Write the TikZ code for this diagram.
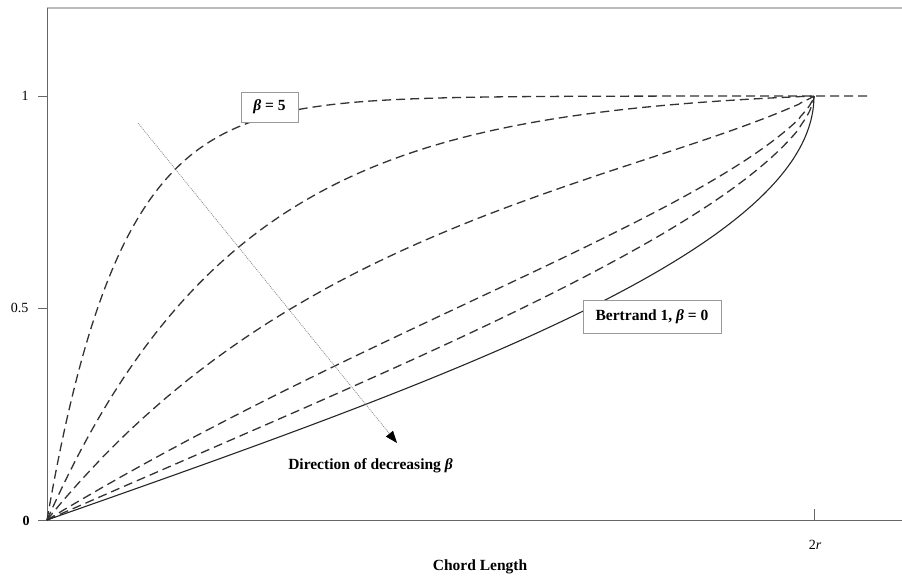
\documentclass[tikz,border=0pt]{standalone}
\usepackage{fontspec}
\setmainfont{Liberation Serif}
\usetikzlibrary{arrows.meta}
\definecolor{axisgray}{HTML}{666666}
\definecolor{framegray}{HTML}{BBBBBB}
\definecolor{boxgray}{HTML}{999999}
\definecolor{curvegray}{HTML}{333333}
\definecolor{dotgray}{HTML}{888888}
\begin{document}
\begin{tikzpicture}[x=1pt,y=-1pt,
  curvedash/.style={draw=curvegray, line width=1.3pt, dash pattern=on 9pt off 5pt},
  solidcurve/.style={draw=black!85, line width=1.1pt},
  axisline/.style={draw=axisgray, line width=0.9pt},
  labelbox/.style={draw=boxgray, line width=0.9pt, fill=white, inner sep=0pt,
     font=\fontsize{15.5}{18}\selectfont\bfseries},
  plaintext/.style={inner sep=0pt, font=\fontsize{15.5}{18}\selectfont\bfseries},
  ticktext/.style={inner sep=0pt, font=\fontsize{14}{16}\selectfont},
  dirarrow/.style={draw=dotgray, line width=0.7pt, dash pattern=on 1pt off 1pt,
     -{Triangle[length=12pt,width=9pt,color=black]}}
]
\useasboundingbox (0,0) rectangle (902,581);
\fill[white] (0,0) rectangle (902,581);

% frame and axes
\coordinate (ftl) at (47,8);
\coordinate (ftr) at (902,8);
\coordinate (orig) at (47,520);
\coordinate (xl) at (38,520);
\coordinate (xr) at (902,520);
\draw[draw=framegray, line width=1.3pt] (ftl) -- (ftr);
\draw[axisline] (ftl) -- (orig);
\draw[axisline] (xl) -- (xr);
\coordinate (t1a) at (38,96);   \coordinate (t1b) at (47,96);
\coordinate (t5a) at (38,308);  \coordinate (t5b) at (47,308);
\coordinate (t2a) at (814,509); \coordinate (t2b) at (814,521);
\draw[axisline] (t1a) -- (t1b);
\draw[axisline] (t5a) -- (t5b);
\draw[axisline] (t2a) -- (t2b);

% tick labels
\node[ticktext] (l1) at (25,96) {1};
\node[ticktext] (l05) at (19.5,308) {0.5};
\node[ticktext, font=\fontsize{14}{16}\selectfont\bfseries] (l0) at (26,521) {0};
\node[ticktext] (l2r) at (815,545) {2\textit{r}};
\node[plaintext] (xlabel) at (480,567) {Chord Length};

% curves
\coordinate (endpt) at (814,96);
\coordinate (flatend) at (869,96);
\draw[curvedash] plot[domain=0:1, samples=220] ({47+767*\x},{520-424*(1-exp(-10.5*\x))}) -- (flatend);
\draw[curvedash] plot[domain=0:1, samples=150] ({47+767*\x},{520-424*((1-exp(-4*\x))/(1-exp(-4)))});
\draw[curvedash] plot[domain=0:89.5, samples=150] ({47+767*sin(\x)},{520-424*(1-(1-\x/90)^(3.5-1.6*sin(\x)))}) -- (endpt);
\draw[curvedash] plot[domain=0:89.5, samples=150] ({47+767*sin(\x)},{520-424*(1-(1-\x/90)^(1.72-0.3*sin(\x)))}) -- (endpt);
\draw[curvedash] plot[domain=0:89.5, samples=150] ({47+767*sin(\x)},{520-424*(1-(1-\x/90)^(1.25))}) -- (endpt);
\draw[solidcurve] plot[domain=0:90, samples=160] ({47+767*sin(\x)},{520-424*(\x/90)});

% direction arrow
\coordinate (arrs) at (138,123);
\coordinate (arre) at (397,443);
\draw[dirarrow] (arrs) -- (arre);
\node[plaintext] (dirlabel) at (370.5,466) {Direction of decreasing \textit{β}};

% labels in boxes
\node[labelbox, minimum width=57pt, minimum height=30pt] (beta5) at (269.5,107) {\textit{β} = 5};
\node[labelbox, minimum width=138pt, minimum height=33pt] (bert) at (652,316.5) {Bertrand 1, \textit{β} = 0};
\end{tikzpicture}
\end{document}
